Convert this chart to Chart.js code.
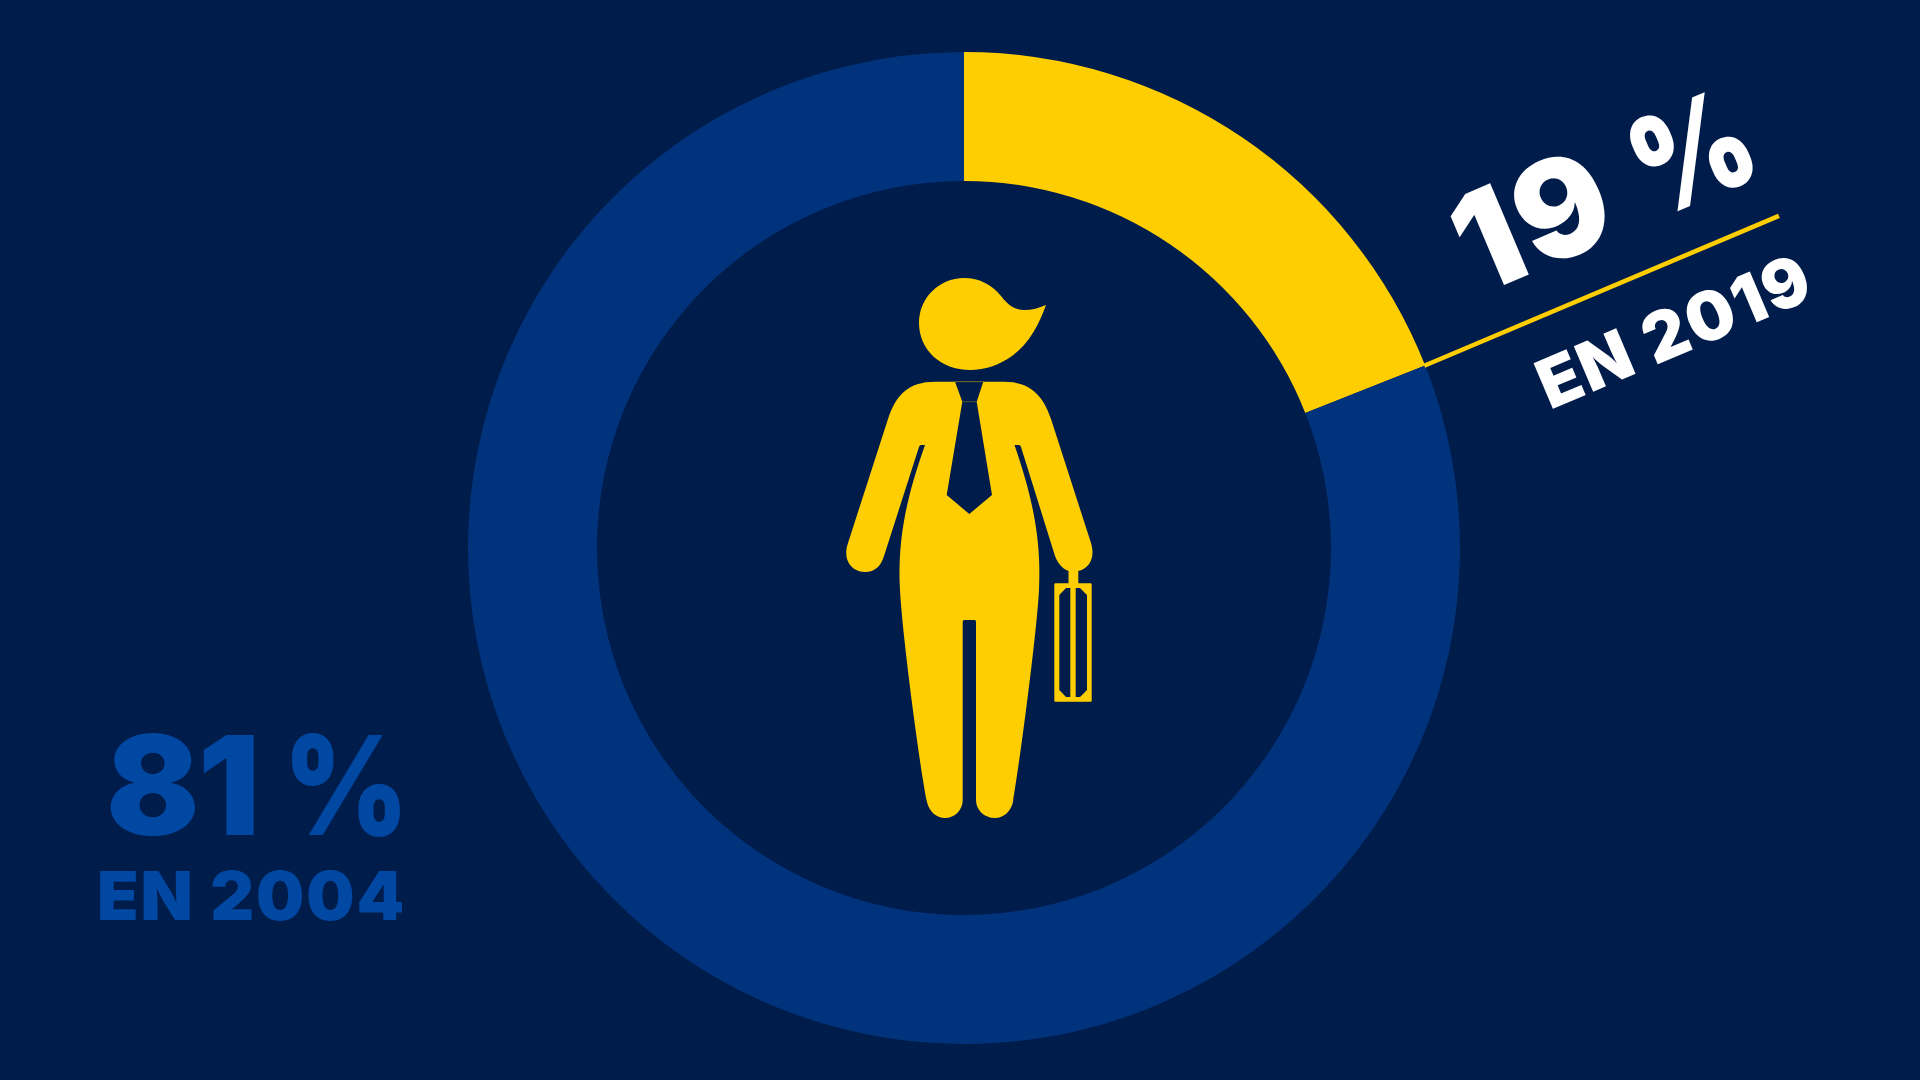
<!DOCTYPE html>
<html lang="fr"><head><meta charset="utf-8"><title>Donut</title>
<style>html,body{margin:0;padding:0;background:#001c4a;overflow:hidden}canvas{display:block}
#t{position:absolute;left:0;top:0;width:1920px;height:1080px;pointer-events:none}
#t text{font-family:Inter,'Liberation Sans',sans-serif;font-weight:900;font-optical-sizing:none;white-space:pre}</style>
<script src="https://cdn.jsdelivr.net/npm/chart.js@4"></script></head>
<body><canvas id="c" width="1920" height="1080"></canvas>
<svg id="t" xmlns="http://www.w3.org/2000/svg" viewBox="0 0 1920 1080"></svg>
<script>
const categories = ["En 2019", "En 2004"];
const values = [19, 81];
const valueLabels = ["19 ", "81 "];
const percentSign = "%";
const yearLabels = ["EN 2019", "EN 2004"];

const BG = "#001c4a", YELLOW = "#ffce00", RING = "#00337c", TEXTBLUE = "#0048a2";

const bodyPath = new Path2D("M955 381.7 L935 381.7 C908 381.7 896 395 888 419 L848 543 C842 560 852 572 865 572 C875 572 881 566 884 556 L919 447 C919.5 445.5 920.5 445 922 445 L925 445 C909 490 897 535 900 590 C902 630 918 755 927 802 C929 811 936 818 945 818 C955 818 962.7 810 962.7 800 L962.7 622 C962.7 620.5 963.5 620 965 620 L974 620 C975.5 620 976 620.5 976 622 L976 800 C976 810 984 818 995 818 C1004 818 1011 811 1013 802 C1021 755 1037 630 1039 590 C1042 535 1030 490 1014.5 445 L1018 445 C1019.5 445 1020.5 445.5 1021 447 L1055 556 C1058 564 1063 569 1068.5 571 L1068.5 583.3 L1055.5 583.3 Q1054.3 583.3 1054.3 584.5 L1054.3 700.5 Q1054.3 701.7 1055.5 701.7 L1090.5 701.7 Q1091.7 701.7 1091.7 700.5 L1091.7 584.5 Q1091.7 583.3 1090.5 583.3 L1078.3 583.3 L1078.3 571 C1088 569 1096 559 1091 543 L1051 419 C1043 395 1030 381.7 1004 381.7 L983.3 381.7 Z");
const headPath = new Path2D("M919 323 C919 298.1 939.1 278 964 278 C980 278 992 285 1001 296 C1008 305 1015 310 1024 310 C1032 310 1039 308 1046 305 C1040 322 1030 343 1012 356 C999 365 985 370 970 370 C941 370 919 350 919 323 Z");
const tiePath = new Path2D("M955 381.7 L983.3 381.7 L976.7 401.7 L992 495 L969.3 514 L946.7 495 L962.3 401.7 Z");
const panePaths = new Path2D("M1059.3 595 L1066 588 L1070.3 588 L1070.3 697 L1066 697 L1059.3 690 Z M1075.7 588 L1080 588 L1087 595 L1087 690 L1080 697 L1075.7 697 Z");

const overlay = {
  id: "overlay",
  afterDraw(chart) {
    const ctx = chart.ctx;
    const arc = chart.getDatasetMeta(0).data[0];
    ctx.save();
    const a = arc.endAngle;
    ctx.strokeStyle = YELLOW; ctx.lineWidth = 4.5;
    ctx.beginPath();
    ctx.moveTo(arc.x + Math.cos(a) * (arc.outerRadius - 1), arc.y + Math.sin(a) * (arc.outerRadius - 1));
    ctx.lineTo(arc.x + Math.cos(a - 0.01) * 880, arc.y + Math.sin(a - 0.01) * 880);
    ctx.stroke();
    ctx.fillStyle = YELLOW;
    ctx.fill(headPath); ctx.fill(bodyPath);
    ctx.fillStyle = BG;
    ctx.fill(tiePath); ctx.fill(panePaths);
    ctx.strokeStyle = "rgba(255,206,0,0.45)"; ctx.lineWidth = 0.7;
    ctx.beginPath(); ctx.moveTo(955, 381.7); ctx.lineTo(983.3, 381.7);
    ctx.moveTo(962.3, 401.7); ctx.lineTo(976.7, 401.7); ctx.stroke();
    ctx.restore();
  }
};

const NS = "http://www.w3.org/2000/svg";
const svg = document.getElementById("t");
function put(t, x, y, size, color, rot, ls, tail, tailLen, tailDx) {
  const e = document.createElementNS(NS, "text");
  e.setAttribute("x", x); e.setAttribute("y", y);
  e.setAttribute("transform", `rotate(${rot} ${x} ${y})`);
  e.setAttribute("fill", color);
  e.style.fontSize = size + "px"; e.style.letterSpacing = ls + "px";
  e.textContent = t;
  if (tail) {
    const s = document.createElementNS(NS, "tspan");
    s.setAttribute("textLength", tailLen);
    s.setAttribute("lengthAdjust", "spacingAndGlyphs");
    s.setAttribute("dx", tailDx);
    s.style.letterSpacing = "0px";
    s.textContent = tail; e.appendChild(s);
  }
  svg.appendChild(e);
}
put(valueLabels[0], 1478, 296, 136, "#ffffff", -23, 4, percentSign, 121, 0);
put(yearLabels[0], 1550, 410, 68, "#ffffff", -23, 2.1);
put(valueLabels[1], 106, 835, 138, TEXTBLUE, 0, -2, percentSign, 125, 0);
put(yearLabels[1], 97, 920, 68, TEXTBLUE, 0, 1.9);

new Chart(document.getElementById("c"), {
  type: "doughnut",
  data: { labels: categories, datasets: [{ data: values, backgroundColor: [YELLOW, RING], borderWidth: 0, hoverOffset: 0 }] },
  options: {
    responsive: false, animation: false, cutout: "74%", rotation: 0, circumference: 360,
    layout: { padding: { left: 468, right: 460, top: 52, bottom: 36 } },
    plugins: { legend: { display: false }, tooltip: { enabled: false }, title: { display: false } }
  },
  plugins: [overlay]
});
</script></body></html>
